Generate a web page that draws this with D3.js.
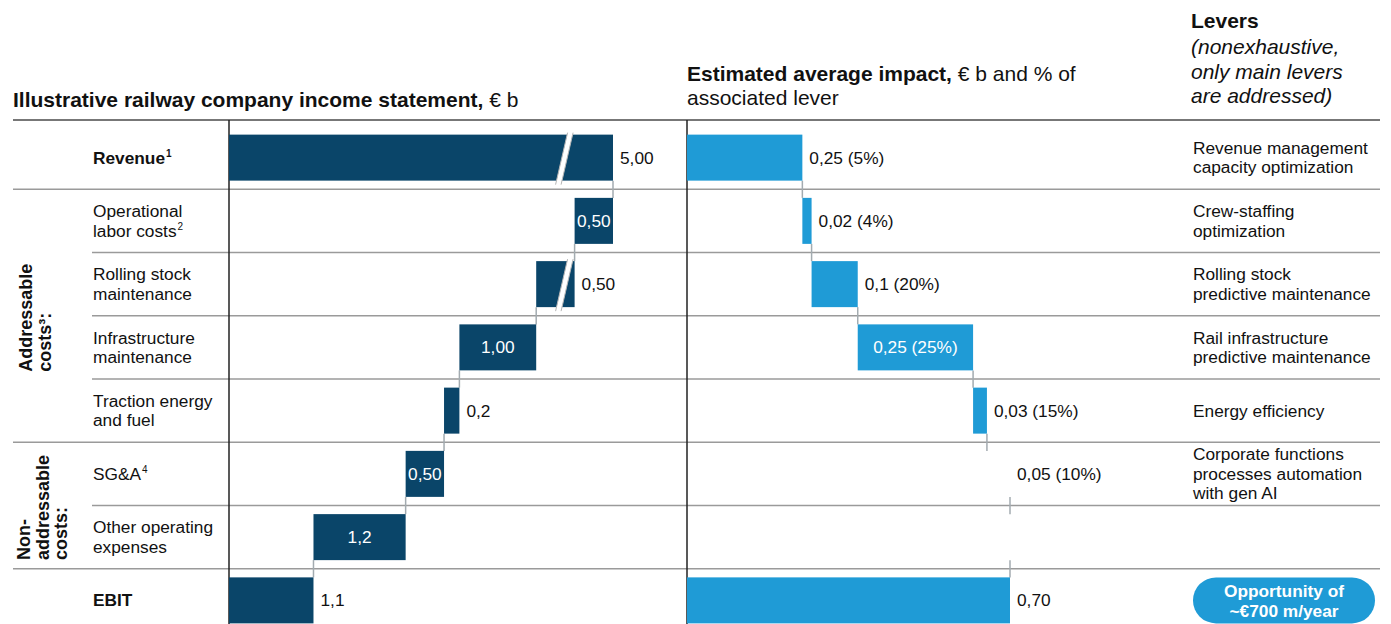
<!DOCTYPE html>
<html>
<head>
<meta charset="utf-8">
<script src="https://cdn.jsdelivr.net/npm/d3@7"></script>
<style>
  body { margin: 0; background: #fff; }
  svg { font-family: "Liberation Sans", Arial, sans-serif; display: block; }
</style>
</head>
<body>
<div id="chart"></div>
<script>
// categories (one row each) and row label lines
const categories = ["Revenue", "Operational labor costs", "Rolling stock maintenance", "Infrastructure maintenance",
  "Traction energy and fuel", "SG&A", "Other operating expenses", "EBIT"];
const rowLabelLines = [["Revenue"], ["Operational", "labor costs"], ["Rolling stock", "maintenance"],
  ["Infrastructure", "maintenance"], ["Traction energy", "and fuel"], ["SG&A"], ["Other operating", "expenses"], ["EBIT"]];
const rowFootnotes = ["1", "2", "", "", "", "4", "", ""];
const rowKinds = ["total", "cost", "cost", "cost", "cost", "cost", "cost", "total"];

// income statement, € b
const incomeValues = [5.00, 0.50, 0.50, 1.00, 0.2, 0.50, 1.2, 1.1];
const incomeLabels = ["5,00", "0,50", "0,50", "1,00", "0,2", "0,50", "1,2", "1,1"];

// estimated average impact, € b and % of associated lever
const impactValues = [0.25, 0.02, 0.1, 0.25, 0.03, 0.05, 0, 0.70];
const impactLabels = ["0,25 (5%)", "0,02 (4%)", "0,1 (20%)", "0,25 (25%)", "0,03 (15%)", "0,05 (10%)", "", "0,70"];

// levers
const levers = [["Revenue management", "capacity optimization"], ["Crew-staffing", "optimization"],
  ["Rolling stock", "predictive maintenance"], ["Rail infrastructure", "predictive maintenance"],
  ["Energy efficiency"], ["Corporate functions", "processes automation", "with gen AI"], [], []];

const groups = [
  { lines: ["Addressable", "costs³:"], first: 1, last: 4 },
  { lines: ["Non-", "addressable", "costs:"], first: 5, last: 6 }
];

const W = 1391, H = 624;
const navy = "#0a4569", blue = "#1f9bd6", grey = "#9a9a9a", connector = "#a3abb0";
const fs = 17.3, headFs = 21;
const incomeInside = new Set([1, 3, 5, 6]);
const impactInside = new Set([3]);
const impactHidden = new Set([5]);   // SG&A impact has no visible bar in the source
const breaks = [0, 2];                // rows drawn with a scale break
const breakAt = 4.35;

const svg = d3.select("#chart").append("svg").attr("width", W).attr("height", H);

const y = d3.scaleBand().domain(categories).range([126, 632]);
const xL = d3.scaleLinear().domain([0, 5]).range([229, 613]);
const xR = d3.scaleLinear().domain([0, 0.7]).range([687, 1010]);
const barH = 46;
const barY = (c) => y(c) + (y.bandwidth() - barH) / 2;
const midY = (c) => y(c) + y.bandwidth() / 2;

// headers
const t1 = svg.append("text").attr("x", 13).attr("y", 107).attr("font-size", headFs).attr("fill", "#111");
t1.append("tspan").attr("font-weight", "bold").text("Illustrative railway company income statement,");
t1.append("tspan").text(" € b");

const t2 = svg.append("text").attr("x", 687).attr("y", 81).attr("font-size", headFs).attr("fill", "#111");
t2.append("tspan").attr("font-weight", "bold").text("Estimated average impact,");
t2.append("tspan").text(" € b and % of");
svg.append("text").attr("x", 687).attr("y", 105).attr("font-size", headFs).attr("fill", "#111").text("associated lever");

svg.append("text").attr("x", 1191).attr("y", 28).attr("font-size", headFs).attr("font-weight", "bold")
  .attr("fill", "#111").text("Levers");
["(nonexhaustive,", "only main levers", "are addressed)"].forEach((s, i) => {
  svg.append("text").attr("x", 1191).attr("y", 54 + i * 24.5).attr("font-size", headFs)
    .attr("font-style", "italic").attr("fill", "#111").text(s);
});

// grid lines
svg.append("line").attr("x1", 13).attr("x2", 1380).attr("y1", 120).attr("y2", 120)
  .attr("stroke", "#777").attr("stroke-width", 2);
categories.slice(1).forEach((c, i) => {
  const idx = i + 1;
  const startsGroup = groups.some((g) => g.first === idx) || rowKinds[idx] === "total";
  svg.append("line").attr("x1", startsGroup ? 13 : 92).attr("x2", 1380)
    .attr("y1", y(c)).attr("y2", y(c)).attr("stroke", grey).attr("stroke-width", 1.5);
});

// axis lines
[xL(0), xR(0)].forEach((x) => {
  svg.append("line").attr("x1", x).attr("x2", x).attr("y1", 120).attr("y2", H)
    .attr("stroke", "#222").attr("stroke-width", 1.5);
});

// group labels (rotated, lines share a start, block centred on the group)
groups.forEach((g) => {
  const centre = (y(categories[g.first]) + y(categories[g.last]) + y.bandwidth()) / 2;
  const xBase = g.lines.length === 2 ? 32 : 30;
  const texts = g.lines.map((s, i) => svg.append("text")
    .attr("font-size", 18).attr("font-weight", "bold").attr("fill", "#111").text(s));
  const longest = d3.max(texts, (t) => t.node().getComputedTextLength());
  texts.forEach((t, i) => {
    t.attr("transform", `translate(${xBase + i * 18.5},${centre + longest / 2 + 2}) rotate(-90)`);
  });
});

// row labels
categories.forEach((c, i) => {
  const lines = rowLabelLines[i];
  const top = midY(c) - (lines.length - 1) * 19.5 / 2;
  lines.forEach((s, j) => {
    const t = svg.append("text").attr("x", 93).attr("y", top + j * 19.5).attr("dy", "0.35em")
      .attr("font-size", fs).attr("fill", "#111")
      .attr("font-weight", rowKinds[i] === "total" ? "bold" : "normal");
    t.append("tspan").text(s);
    if (j === lines.length - 1 && rowFootnotes[i]) {
      t.append("tspan").attr("font-size", 10).attr("dx", 1).attr("dy", "-0.7em").text(rowFootnotes[i]);
    }
  });
});

// waterfall geometry: totals start at zero, costs step down from revenue, impacts step up from zero
function waterfall(values, decreasing) {
  let run = decreasing ? values[0] : 0;
  return values.map((v, i) => {
    if (i === 0) { if (!decreasing) run = v; return { x0: 0, x1: v, end: v }; }
    if (rowKinds[i] === "total") return { x0: 0, x1: v, start: v };
    if (decreasing) { const s = { x0: run - v, x1: run, start: run, end: run - v }; run -= v; return s; }
    const s = { x0: run, x1: run + v, start: run, end: run + v }; run += v; return s;
  });
}
const leftSegs = waterfall(incomeValues, true);
const rightSegs = waterfall(impactValues, false);

function drawPanel(segs, x, color, labels, inside, hidden) {
  // connectors between consecutive bars
  segs.forEach((s, i) => {
    if (i === 0) return;
    const px = x(segs[i - 1].end);
    svg.append("line")
      .attr("x1", px).attr("x2", px)
      .attr("y1", barY(categories[i - 1]) + barH).attr("y2", barY(categories[i]))
      .attr("stroke", connector).attr("stroke-width", 1.5);
  });
  // bars
  svg.append("g").selectAll("rect")
    .data(segs.map((s, i) => ({ ...s, i })).filter((d) => !hidden.has(d.i) && d.x1 - d.x0 > 0))
    .enter().append("rect")
    .attr("x", (d) => x(d.x0)).attr("width", (d) => x(d.x1) - x(d.x0))
    .attr("y", (d) => barY(categories[d.i])).attr("height", barH)
    .attr("fill", color);
  // labels
  segs.forEach((s, i) => {
    if (!labels[i]) return;
    const isIn = inside.has(i);
    svg.append("text")
      .attr("x", isIn ? (x(s.x0) + x(s.x1)) / 2 : x(s.x1) + 7)
      .attr("y", midY(categories[i])).attr("dy", "0.35em")
      .attr("text-anchor", isIn ? "middle" : "start")
      .attr("font-size", fs).attr("fill", isIn ? "#fff" : "#111")
      .text(labels[i]);
  });
}
drawPanel(leftSegs, xL, navy, incomeLabels, incomeInside, new Set());
drawPanel(rightSegs, xR, blue, impactLabels, impactInside, impactHidden);

// scale break marks on the left panel
breaks.forEach((i) => {
  const c = categories[i];
  const cx = xL(breakAt), yt = barY(c) - 2, yb = barY(c) + barH + 4;
  const pts = [[cx - 7.5, yb], [cx - 2, yb], [cx + 10, yt], [cx + 4.5, yt]];
  svg.append("polygon").attr("points", pts.map((p) => p.join(",")).join(" ")).attr("fill", "#fff");
  [[pts[0], pts[3]], [pts[1], pts[2]]].forEach(([a, b]) => {
    svg.append("line").attr("x1", a[0]).attr("y1", a[1]).attr("x2", b[0]).attr("y2", b[1])
      .attr("stroke", "#b5b5b5").attr("stroke-width", 1);
  });
});

// lever texts
levers.forEach((lines, i) => {
  const top = midY(categories[i]) - (lines.length - 1) * 19.5 / 2;
  lines.forEach((s, j) => {
    svg.append("text").attr("x", 1193).attr("y", top + j * 19.5).attr("dy", "0.35em")
      .attr("font-size", fs).attr("fill", "#111").text(s);
  });
});

// opportunity pill
const pillY = barY("EBIT");
svg.append("rect").attr("x", 1193).attr("y", pillY).attr("width", 182).attr("height", barH)
  .attr("rx", 23).attr("fill", blue);
["Opportunity of", "~€700 m/year"].forEach((s, j) => {
  svg.append("text").attr("x", 1284).attr("y", pillY + 14 + j * 20).attr("dy", "0.35em")
    .attr("text-anchor", "middle").attr("font-size", fs).attr("font-weight", "bold")
    .attr("fill", "#fff").text(s);
});
</script>
</body>
</html>
